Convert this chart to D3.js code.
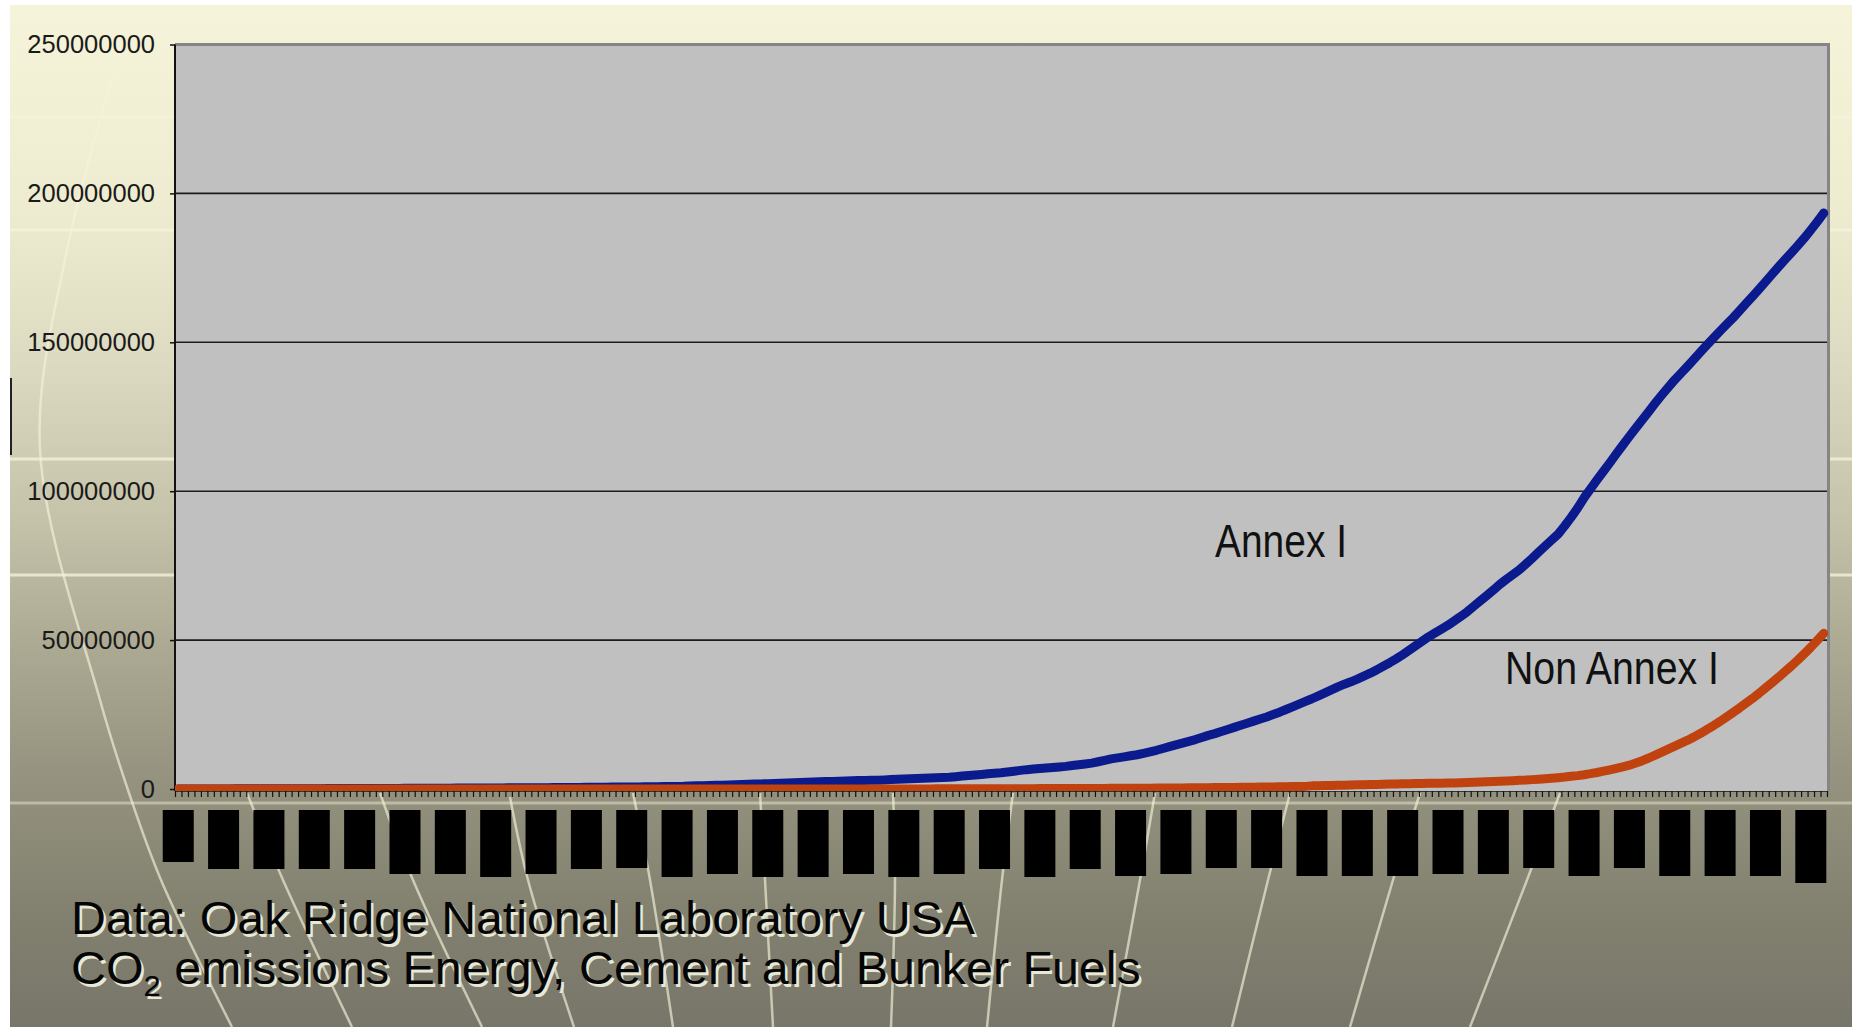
<!DOCTYPE html>
<html>
<head>
<meta charset="utf-8">
<script src="https://cdn.jsdelivr.net/npm/d3@7"></script>
<style>
  html, body { margin: 0; padding: 0; background: #ffffff; overflow: hidden; }
  svg { display: block; }
</style>
</head>
<body>
<svg id="chart" width="1852" height="1027"></svg>
<script>
// ---- data: cumulative CO2 emissions (energy, cement, bunker fuels), millions ----
const firstYear = 1751;
const lastYear = 2005;
const years = d3.range(firstYear, lastYear + 1);

const annexI = [
  0.00, 0.01, 0.01, 0.02, 0.02, 0.03, 0.03, 0.04, 0.04, 0.05,
  0.05, 0.06, 0.06, 0.07, 0.07, 0.08, 0.09, 0.09, 0.10, 0.10,
  0.11, 0.12, 0.12, 0.13, 0.14, 0.14, 0.15, 0.16, 0.16, 0.17,
  0.18, 0.19, 0.19, 0.20, 0.21, 0.22, 0.23, 0.24, 0.25, 0.26,
  0.27, 0.28, 0.29, 0.30, 0.31, 0.32, 0.33, 0.34, 0.35, 0.36,
  0.37, 0.39, 0.40, 0.41, 0.42, 0.44, 0.45, 0.46, 0.48, 0.49,
  0.51, 0.52, 0.54, 0.55, 0.57, 0.59, 0.61, 0.63, 0.65, 0.67,
  0.69, 0.71, 0.73, 0.76, 0.78, 0.81, 0.84, 0.87, 0.90, 1.00,
  1.06, 1.12, 1.18, 1.24, 1.30, 1.37, 1.44, 1.51, 1.58, 1.65,
  1.72, 1.79, 1.86, 1.94, 2.02, 2.10, 2.18, 2.26, 2.34, 2.42,
  2.49, 2.56, 2.63, 2.70, 2.76, 2.82, 2.87, 2.92, 2.97, 3.06,
  3.15, 3.24, 3.33, 3.42, 3.51, 3.60, 3.69, 3.78, 3.87, 3.96,
  4.14, 4.33, 4.52, 4.71, 4.90, 5.09, 5.27, 5.45, 5.72, 5.99,
  6.25, 6.50, 6.69, 6.88, 7.06, 7.24, 7.42, 7.60, 7.87, 8.14,
  8.42, 8.70, 9.15, 9.62, 10.10, 10.45, 10.80, 11.15, 11.50, 12.00,
  12.50, 13.00, 13.60, 14.20, 14.80, 15.40, 16.00, 16.60, 17.30, 18.00,
  18.60, 19.30, 20.00, 20.70, 21.40, 22.10, 22.80, 23.50, 24.20, 25.00,
  25.80, 26.70, 27.60, 28.50, 29.40, 30.30, 31.30, 32.30, 33.30, 34.30,
  35.20, 36.00, 36.90, 37.90, 38.90, 40.00, 41.20, 42.40, 43.70, 45.10,
  46.60, 48.10, 49.60, 51.10, 52.40, 53.70, 55.00, 56.50, 58.00, 59.60,
  61.40, 63.20, 65.00, 66.80, 68.70, 70.40, 72.00, 73.60, 75.50, 77.50,
  79.60, 81.60, 83.60, 85.60, 88.30, 91.20, 94.30, 97.80, 100.80, 103.80,
  106.70, 109.60, 112.60, 115.50, 118.40, 121.20, 124.00, 126.80, 129.60, 132.30,
  134.90, 137.40, 139.70, 142.00, 144.40, 146.80, 149.20, 151.50, 153.80, 156.00,
  158.20, 160.60, 163.00, 165.40, 167.80, 170.30, 172.80, 175.30, 177.70, 180.10,
  182.50, 185.00, 187.70, 190.50, 193.40
];

const nonAnnexI = [
  0, 0, 0, 0, 0, 0, 0, 0, 0, 0,
  0, 0, 0, 0, 0, 0, 0, 0, 0, 0,
  0, 0, 0, 0, 0, 0, 0, 0, 0, 0,
  0, 0, 0, 0, 0, 0, 0, 0, 0, 0,
  0, 0, 0, 0, 0, 0, 0, 0, 0, 0,
  0, 0, 0, 0, 0, 0, 0, 0, 0, 0,
  0, 0, 0, 0, 0, 0, 0, 0, 0, 0,
  0, 0, 0, 0, 0, 0, 0, 0, 0, 0,
  0, 0, 0, 0, 0, 0, 0, 0, 0, 0,
  0, 0, 0, 0, 0, 0, 0, 0, 0, 0,
  0.00, 0.00, 0.01, 0.01, 0.01, 0.01, 0.01, 0.02, 0.02, 0.02,
  0.02, 0.03, 0.03, 0.03, 0.04, 0.04, 0.04, 0.05, 0.05, 0.05,
  0.06, 0.06, 0.07, 0.07, 0.08, 0.08, 0.09, 0.09, 0.10, 0.10,
  0.11, 0.11, 0.12, 0.13, 0.13, 0.14, 0.15, 0.15, 0.16, 0.17,
  0.18, 0.19, 0.20, 0.21, 0.22, 0.23, 0.24, 0.25, 0.26, 0.28,
  0.29, 0.31, 0.32, 0.34, 0.35, 0.37, 0.39, 0.41, 0.43, 0.45,
  0.47, 0.49, 0.52, 0.54, 0.56, 0.59, 0.61, 0.64, 0.67, 0.70,
  0.73, 0.76, 0.80, 0.84, 0.88, 1.05, 1.10, 1.15, 1.20, 1.25,
  1.30, 1.35, 1.40, 1.45, 1.50, 1.55, 1.60, 1.65, 1.70, 1.75,
  1.79, 1.83, 1.87, 1.91, 1.94, 1.97, 2.00, 2.03, 2.10, 2.18,
  2.26, 2.34, 2.42, 2.50, 2.60, 2.70, 2.80, 2.90, 3.00, 3.15,
  3.30, 3.45, 3.62, 3.80, 4.00, 4.25, 4.50, 4.80, 5.15, 5.55,
  6.00, 6.45, 6.95, 7.45, 8.00, 8.70, 9.50, 10.40, 11.40, 12.40,
  13.40, 14.40, 15.40, 16.40, 17.50, 18.70, 20.00, 21.30, 22.70, 24.20,
  25.70, 27.20, 28.80, 30.40, 32.10, 33.90, 35.70, 37.50, 39.40, 41.30,
  43.30, 45.40, 47.60, 49.90, 52.30
];

const yTickValues = [0, 50000000, 100000000, 150000000, 200000000, 250000000];
const seriesNames = ["Annex I", "Non Annex I"];
const sourceLine = "Data: Oak Ridge National Laboratory USA";
const gasLine = ["CO", "2", " emissions Energy, Cement and Bunker Fuels"];

// every 7th year carries a (masked) category label
const labelStep = 7;
// depth of each black label mask, in px
const labelMaskDepth = [52, 59, 59, 59, 59, 64, 64, 67, 64, 59, 58, 67, 64, 67, 67, 64, 67, 64, 59,
                        67, 59, 66, 64, 58, 58, 66, 66, 66, 64, 64, 58, 66, 58, 66, 66, 66, 73];

// ---- layout ----
const W = 1852, H = 1027;
const plot = { left: 175, right: 1827, top: 44.5, bottom: 791, zero: 789 };

const svg = d3.select("#chart");
const defs = svg.append("defs");

// slide background: cream at the top fading into olive grey
const grad = defs.append("linearGradient").attr("id", "slideBg")
  .attr("x1", 0).attr("y1", 0).attr("x2", 0).attr("y2", 1);
[[0, "#f5f3d9"], [0.2, "#eeecd0"], [0.35, "#dcdac0"], [0.5, "#c5c3aa"],
 [0.62, "#adab94"], [0.75, "#969480"], [0.88, "#838270"], [1, "#77766a"]]
  .forEach(([o, c]) => grad.append("stop").attr("offset", o).attr("stop-color", c));

svg.append("rect").attr("width", W).attr("height", H).attr("fill", "#ffffff");
svg.append("rect").attr("x", 10).attr("y", 5).attr("width", W - 10).attr("height", H - 5)
  .attr("fill", "url(#slideBg)");

// template decoration: light horizontal bands and globe meridians
const deco = svg.append("g").attr("fill", "none").attr("stroke", "#f4f2da");
[[117, 0.9], [230, 0.85], [459, 0.8], [575, 0.8], [803, 0.45]].forEach(([yy, op]) => {
  deco.append("line").attr("x1", 10).attr("x2", W).attr("y1", yy).attr("y2", yy)
    .attr("stroke-width", 3).attr("opacity", op);
});
const meridians = [
  [[123, 40], [67, 250], [40, 450], [100, 700], [129, 793], [161, 880], [232, 1027]],
  [[247, 793], [283, 880], [352, 1027]],
  [[380, 793], [413, 880], [482, 1027]],
  [[510, 797], [528, 880], [574, 1027]],
  [[633, 793], [650, 880], [673, 1027]],
  [[760, 793], [765, 880], [773, 1027]],
  [[893, 793], [895, 880], [891, 1027]],
  [[1013, 793], [1002, 880], [987, 1027]],
  [[1155, 793], [1140, 880], [1113, 1027]],
  [[1290, 793], [1268, 880], [1232, 1027]],
  [[1420, 793], [1393, 880], [1350, 1027]],
  [[1560, 793], [1527, 880], [1470, 1027]]
];
const mLine = d3.line().curve(d3.curveCatmullRom);
meridians.forEach(pts => {
  deco.append("path").attr("d", mLine(pts)).attr("stroke-width", 2.5).attr("opacity", 0.65);
});
// small dark mark on the slide's left edge
svg.append("rect").attr("x", 10).attr("y", 378).attr("width", 2).attr("height", 77).attr("fill", "#222");

// ---- scales ----
const x = d3.scaleBand().domain(years).range([plot.left, plot.right]).padding(0);
const bw = x.bandwidth();
const xc = yr => x(yr) + bw / 2;
const y = d3.scaleLinear().domain([0, 250000000]).range([plot.zero, plot.top]);

// plot area
svg.append("rect")
  .attr("x", plot.left).attr("y", plot.top)
  .attr("width", plot.right - plot.left).attr("height", plot.bottom - plot.top)
  .attr("fill", "#c0c0c0");
// grey frame on top and right
svg.append("path")
  .attr("d", `M${plot.left},${plot.top} H${plot.right + 1.5} V${plot.bottom}`)
  .attr("fill", "none").attr("stroke", "#858585").attr("stroke-width", 3);

// gridlines
svg.append("g").selectAll("line")
  .data(yTickValues.filter(v => v > 0 && v < 250000000))
  .join("line")
  .attr("x1", plot.left).attr("x2", plot.right)
  .attr("y1", d => y(d)).attr("y2", d => y(d))
  .attr("stroke", "#1b1b1b").attr("stroke-width", 1.6);

// y axis
const yAxis = svg.append("g")
  .attr("transform", `translate(${plot.left},0)`)
  .call(d3.axisLeft(y).tickValues(yTickValues).tickSize(5).tickPadding(15).tickFormat(d3.format("d")));
yAxis.select(".domain").attr("stroke", "#111").attr("stroke-width", 2)
  .attr("d", `M0,${plot.top}V${plot.bottom}`);
yAxis.selectAll(".tick line").attr("stroke", "#111").attr("stroke-width", 1.5);
yAxis.selectAll(".tick text")
  .attr("fill", "#1a1a1a")
  .style("font-family", "'Liberation Sans', Arial, sans-serif")
  .style("font-size", "25.5px");

// series lines, clipped to the plot area
const clip = defs.append("clipPath").attr("id", "plotClip");
clip.append("rect").attr("x", plot.left).attr("y", plot.top - 10)
  .attr("width", plot.right - plot.left + 4).attr("height", plot.bottom - plot.top + 10.5);

const line = d3.line().x(d => xc(d.year)).y(d => y(d.value));
const toPoints = arr => arr.map((v, i) => ({ year: years[i], value: v * 1e6 }));

const lines = svg.append("g").attr("clip-path", "url(#plotClip)")
  .attr("fill", "none").attr("stroke-width", 9)
  .attr("stroke-linejoin", "round").attr("stroke-linecap", "round");
lines.append("path").attr("d", line(toPoints(annexI))).attr("stroke", "#0b1b8e");
lines.append("path").attr("d", line(toPoints(nonAnnexI))).attr("stroke", "#bf420f");

// x axis: a tick at every category boundary
const xEdge = d3.scaleLinear().domain([0, years.length]).range([plot.left, plot.right]);
const xAxis = svg.append("g")
  .attr("transform", `translate(0,${plot.bottom})`)
  .call(d3.axisBottom(xEdge).tickValues(d3.range(years.length + 1)).tickSize(6).tickFormat(""));
xAxis.select(".domain").attr("stroke", "#333").attr("stroke-width", 1).attr("d", `M${plot.left},0.5H${plot.right}`);
xAxis.selectAll(".tick line").attr("stroke", "#111").attr("stroke-width", 1.2);

// masked category labels
const labelled = years.filter((yr, i) => i % labelStep === 0);
svg.append("g").selectAll("rect")
  .data(labelled)
  .join("rect")
  .attr("x", d => xc(d) - 15.5)
  .attr("y", 810)
  .attr("width", 31)
  .attr("height", (d, i) => labelMaskDepth[i])
  .attr("fill", "#000");

// series labels
const labelFont = "'Liberation Sans Narrow', 'Arial Narrow', 'Liberation Sans', Arial, sans-serif";
function fitText(sel, width) {
  sel.attr("textLength", width).attr("lengthAdjust", "spacingAndGlyphs");
}
const l1 = svg.append("text").attr("x", 1215).attr("y", 557)
  .style("font-family", labelFont).style("font-size", "46px").attr("fill", "#111")
  .text(seriesNames[0]);
fitText(l1, 132);
const l2 = svg.append("text").attr("x", 1505).attr("y", 684)
  .style("font-family", labelFont).style("font-size", "46px").attr("fill", "#111")
  .text(seriesNames[1]);
fitText(l2, 214);

// source note with a light drop shadow
function noteLine(baseline, parts, width) {
  const g = svg.append("g");
  const make = (dx, dy, fill) => {
    const t = g.append("text").attr("x", dx).attr("y", dy).attr("fill", fill)
      .style("font-family", labelFont).style("font-size", "47px");
    parts.forEach((p, i) => {
      const sub = parts.length > 1 && i === 1;
      t.append("tspan").text(p)
        .style("font-size", sub ? "30px" : null)
        .attr("dy", sub ? 12 : (i === 2 ? -12 : null));
    });
    return t;
  };
  make(2.5, 2.5, "#e9e8d6");
  const main = make(0, 0, "#050505");
  const w = main.node().getBBox().width;
  g.attr("transform", `translate(71,${baseline}) scale(${width / w},1)`);
}
noteLine(934, [sourceLine], 905);
noteLine(984, gasLine, 1070);
</script>
</body>
</html>
